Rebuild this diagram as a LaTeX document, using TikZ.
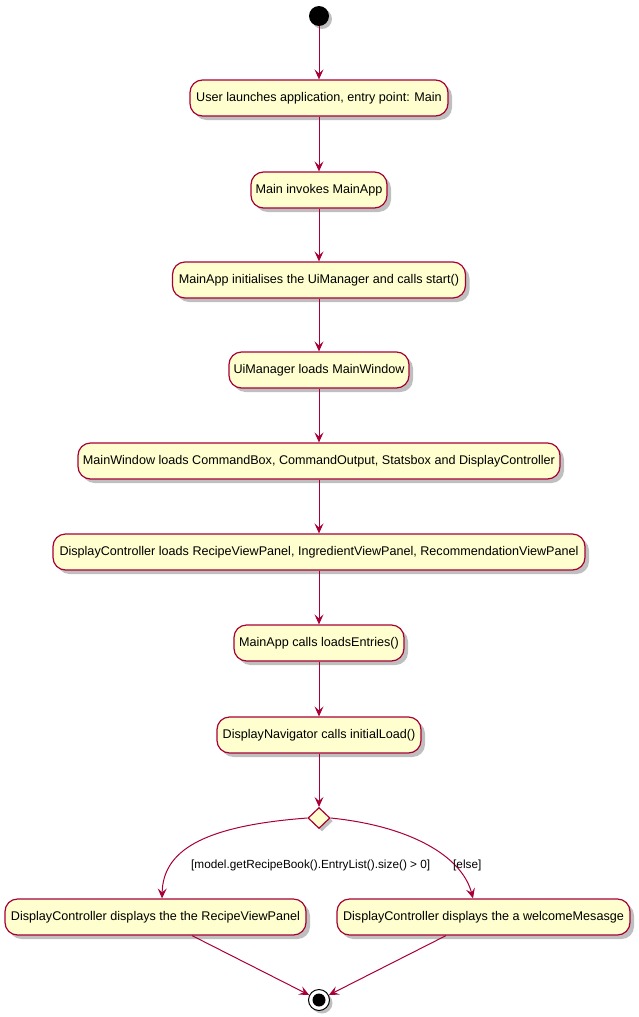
\documentclass[tikz,border=0pt]{standalone}
\usepackage{fontspec}
\setmainfont{Liberation Sans}
\usetikzlibrary{arrows.meta,shadows,shapes.geometric}
\definecolor{pfill}{HTML}{FEFECE}
\definecolor{pline}{HTML}{A80036}
\tikzset{
  act/.style={draw=pline, fill=pfill, line width=1.2pt, rounded corners=12.5pt,
    minimum height=36pt, inner xsep=4pt, inner ysep=0pt,
    font=\fontsize{12.6}{14}\selectfont,
    drop shadow={shadow xshift=4pt, shadow yshift=-4pt, fill=black, opacity=0.25}},
  dec/.style={diamond, draw=pline, fill=pfill, line width=1.2pt, minimum width=22pt, minimum height=21pt, inner sep=0pt,
    drop shadow={shadow xshift=3pt, shadow yshift=-3pt, fill=black, opacity=0.25}},
  flow/.style={draw=pline, line width=1pt, -{Stealth[length=10pt, width=9pt, inset=4pt]}},
  guard/.style={font=\fontsize{11.8}{13}\selectfont, inner sep=0pt}
}
\begin{document}
\begin{tikzpicture}[x=1pt, y=-1pt]
\useasboundingbox (0,0) rectangle (638,1017);
\node[circle, fill=black, minimum size=20pt, inner sep=0pt,
  drop shadow={shadow xshift=3pt, shadow yshift=-3pt, fill=black, opacity=0.25}] (start) at (319,16) {};
\node[act, minimum width=258pt] (n1) at (319,98) {User launches application, entry point: Main};
\node[act, minimum width=136pt] (n2) at (319,190) {Main invokes MainApp};
\node[act, minimum width=293pt] (n3) at (319,280) {MainApp initialises the UiManager and calls start()};
\node[act, minimum width=180pt] (n4) at (319,370) {UiManager loads MainWindow};
\node[act, minimum width=482pt] (n5) at (319,461) {MainWindow loads CommandBox, CommandOutput, Statsbox and DisplayController};
\node[act, minimum width=532pt] (n6) at (319,552) {DisplayController loads RecipeViewPanel, IngredientViewPanel, RecommendationViewPanel};
\node[act, minimum width=170pt] (n7) at (319,643) {MainApp calls loadsEntries()};
\node[act, minimum width=204pt] (n8) at (319,735) {DisplayNavigator calls initialLoad()};
\node[dec] (d) at (319,818) {};
\node[act, minimum width=301pt] (l) at (155.5,917) {DisplayController displays the the RecipeViewPanel};
\node[act, minimum width=293pt] (r) at (483.5,917) {DisplayController displays the a welcomeMesasge};
\node[circle, draw=black, fill=white, line width=1pt, minimum size=21pt, inner sep=0pt,
  drop shadow={shadow xshift=3pt, shadow yshift=-3pt, fill=black, opacity=0.25}] (end) at (319,1000) {};
\node[circle, fill=black, minimum size=13pt, inner sep=0pt] (endin) at (end.center) {};
\draw[flow] (start) -- (n1);
\draw[flow] (n1) -- (n2);
\draw[flow] (n2) -- (n3);
\draw[flow] (n3) -- (n4);
\draw[flow] (n4) -- (n5);
\draw[flow] (n5) -- (n6);
\draw[flow] (n6) -- (n7);
\draw[flow] (n7) -- (n8);
\draw[flow] (n8) -- (d);
\draw[flow] (d.west) .. controls (200,826) and (163,852) .. ([xshift=6.5pt]l.north);
\draw[flow] (d.east) .. controls (410,826) and (462,856) .. ([xshift=-10.5pt]r.north);
\node[guard, anchor=west] (g1) at (191,865) {[model.getRecipeBook().EntryList().size() > 0]};
\node[guard, anchor=west] (g2) at (453,865) {[else]};
\draw[flow] ([xshift=36.5pt]l.south) -- (end);
\draw[flow] ([xshift=-37.5pt]r.south) -- (end);
\end{tikzpicture}
\end{document}
